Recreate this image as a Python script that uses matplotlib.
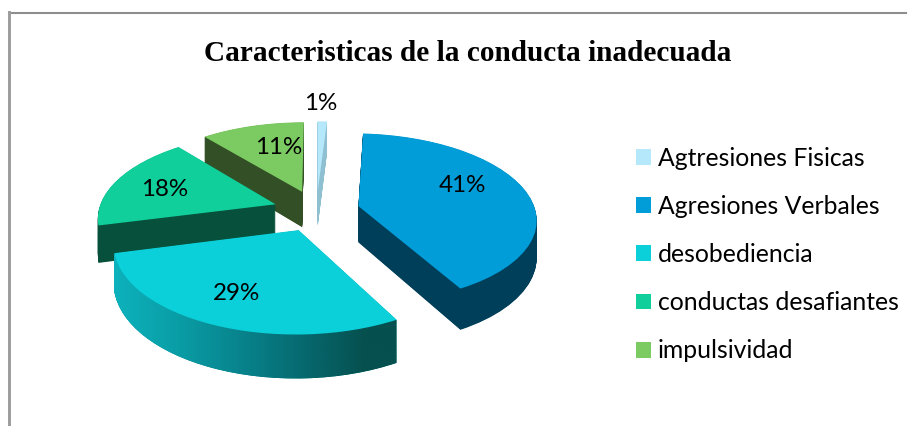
import numpy as np
import matplotlib
matplotlib.use("Agg")
import matplotlib.pyplot as plt
from matplotlib.colors import LinearSegmentedColormap
from matplotlib.path import Path
from matplotlib.transforms import Transform

title = "Caracteristicas de la conducta inadecuada"
categories = ["Agtresiones Fisicas", "Agresiones Verbales", "desobediencia",
              "conductas desafiantes", "impulsividad"]
values = [1, 41, 29, 18, 11]

top_colors = ["#B5E8FB", "#009DD9", "#0BD0D9", "#10CF9B", "#7CCA62"]
side_colors = ["#8FC0D2", "#003F5A", "#0A8A92", "#06503C", "#324F25"]
explode = [0.245] * 5
draw_order = [4, 0, 3, 1, 2]  # back to front
label_px = [(321, 104), (462, 185), (236, 293), (165, 190), (279, 148)]

W, H = 910, 426
CX, CY, RX, RY, PERSP, DEPTH = 316.4, 210.6, 177, 84, 0.1385, 36.5
SANS = "Lato"
FS = 17.4


class Proj(Transform):
    input_dims = output_dims = 2
    is_separable = False
    has_inverse = False

    def __init__(self, z=0.0):
        super().__init__()
        self.z = z

    def transform_non_affine(self, xy):
        xy = np.asarray(xy, float)
        x, y = xy[:, 0], xy[:, 1]
        w = 1 + PERSP * y
        return np.column_stack((CX + RX * x / w, CY - (RY * y - self.z) / w))


fig = plt.figure(figsize=(W / 100, H / 100), dpi=100, facecolor="white")
ax = fig.add_axes([0, 0, 1, 1])

rim_paths = []
for z in np.arange(DEPTH, 0, -0.5):
    wedges, _ = ax.pie(values, explode=explode, colors=side_colors, startangle=90,
                       counterclock=False, frame=True,
                       wedgeprops={"linewidth": 0})
    t = Proj(z)
    for i, wd in enumerate(wedges):
        wd.set_transform(t + ax.transData)
        wd.set_zorder(2 + draw_order.index(i))
    rim_paths.append(t.transform_path(wedges[2].get_path()))

tops, _ = ax.pie(values, explode=explode, colors=top_colors, startangle=90,
                 counterclock=False, frame=True, wedgeprops={"linewidth": 0})
t0 = Proj(0)
for i, wd in enumerate(tops):
    wd.set_transform(t0 + ax.transData)
    wd.set_zorder(2.5 + draw_order.index(i))

# shaded rim of the front slice
grad = LinearSegmentedColormap.from_list(
    "rim", ["#0DB4BE", "#0A9FA8", "#08858E", "#066A70", "#06504F", "#06504F"])
im = ax.imshow(np.linspace(0, 1, 256)[None, :], cmap=grad, aspect="auto",
               extent=(108, 430, 400, 220), zorder=2.2 + draw_order.index(2),
               interpolation="bilinear")
im.set_clip_path(Path.make_compound_path(*rim_paths), ax.transData)

for v, (lx, ly) in zip(values, label_px):
    ax.text(lx, ly, f"{v}%", ha="center", va="center", fontsize=FS, family=SANS,
            color="black", zorder=20)

ax.text(467.5, 53.5, title, ha="center", va="center", fontsize=21.05, fontweight="bold",
        family="Liberation Serif", color="black", zorder=20)

ax.plot([9, 906], [12.5, 12.5], color="#8E8E8E", lw=1.5, zorder=1)
ax.plot([9, 9], [426, 12], color="#9C9C9C", lw=2.1, zorder=1)

leg = ax.legend(tops, categories, loc="upper left",
                bbox_to_anchor=(636 / W, 1 - 146.5 / H), frameon=False,
                prop={"family": SANS, "size": 17.8}, borderpad=0, borderaxespad=0,
                handlelength=0.6, handleheight=0.6, handletextpad=0.28,
                labelspacing=1.02)

ax.set_xlim(0, W)
ax.set_ylim(H, 0)
ax.set_aspect("auto")
ax.axis("off")
fig.savefig("out.png", dpi=100, facecolor="white")
